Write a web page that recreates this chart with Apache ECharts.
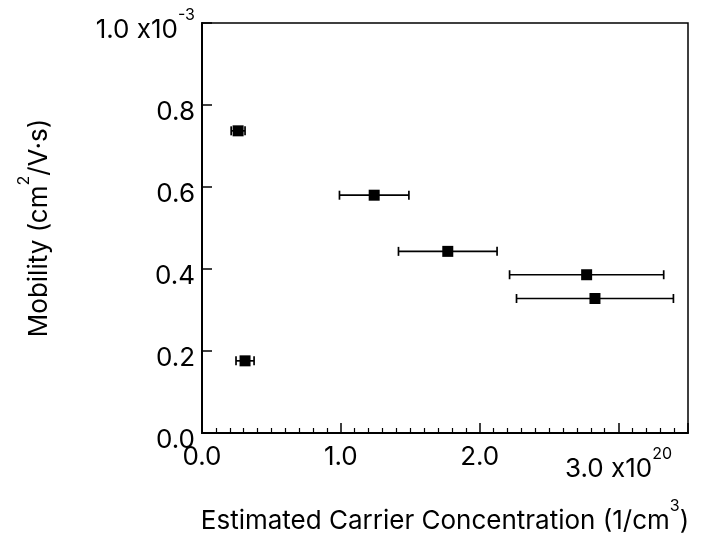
<!DOCTYPE html>
<html><head><meta charset="utf-8">
<script src="https://cdn.jsdelivr.net/npm/echarts@6/dist/echarts.min.js"></script>
<style>html,body{margin:0;padding:0;background:#fff}#c{width:707px;height:541px}</style>
</head><body><div id="c"></div>
<script>
// Carrier concentration (x10^20 1/cm^3), mobility (x10^-3 cm^2/V·s)
const concentration = [0.26, 0.31, 1.24, 1.77, 2.77, 2.83];
const mobility = [0.737, 0.176, 0.580, 0.443, 0.386, 0.328];
const concErr = [0.05, 0.065, 0.25, 0.355, 0.555, 0.565];
const xTickLabels = {0: '0.0', 1: '1.0', 2: '2.0', 3: '3.0 x10'};
const xTickExp = {3: '20'};
const yTickLabels = {0: '0.0', 2: '0.2', 4: '0.4', 6: '0.6', 8: '0.8', 10: '1.0 x10'};
const yTickExp = {10: '-3'};

const pts = concentration.map((x, i) => [x, mobility[i]]);
const errData = concentration.map((x, i) => [x - concErr[i], x + concErr[i], mobility[i]]);
const FONT = 'Inter, Liberation Sans, Arial, sans-serif';
const FS = 26, SFS = 16, LH = 40, SP = 20;
const base = (extra) => Object.assign({fontSize: FS, fontFamily: FONT, color: '#000', lineHeight: LH, verticalAlign: 'bottom'}, extra || {});
const sup = {fontSize: SFS, fontFamily: FONT, color: '#000', lineHeight: SFS, verticalAlign: 'bottom', padding: [0, 0, SP, 0]};
const rich = {b: base(), d: base({lineHeight: LH + 12}), s: sup};

const chart = echarts.init(document.getElementById('c'));
chart.setOption({
  animation: false,
  backgroundColor: '#fff',
  grid: {left: 202, top: 23, right: 19, bottom: 108, show: true, borderColor: '#000', borderWidth: 1.5, backgroundColor: 'transparent'},
  xAxis: {
    type: 'value', min: 0, max: 3.5, interval: 1,
    axisLine: {lineStyle: {color: '#000', width: 2}},
    axisTick: {inside: true, length: 10, lineStyle: {color: '#000', width: 1.5}},
    minorTick: {show: true, splitNumber: 10, length: 5, lineStyle: {color: '#000', width: 1.2}},
    splitLine: {show: false},
    axisLabel: {
      margin: -3,
      formatter: v => {
        const k = Math.round(v);
        const t = xTickLabels[k] || '';
        return xTickExp[k] ? '{d|' + t + '}{s|' + xTickExp[k] + '}' : '{b|' + t + '}';
      },
      rich: rich
    },
    name: '{b|Estimated Carrier Concentration (1/cm}{s|3}{b|)}',
    nameLocation: 'middle', nameGap: 61,
    nameTextStyle: {rich: rich}
  },
  yAxis: {
    type: 'value', min: 0, max: 1, interval: 0.2,
    axisLine: {show: true, lineStyle: {color: '#000', width: 2}},
    axisTick: {show: true, inside: true, length: 10, lineStyle: {color: '#000', width: 1.5}},
    splitLine: {show: false},
    axisLabel: {
      margin: 7,
      formatter: v => {
        const k = Math.round(v * 10);
        const t = yTickLabels[k] || '';
        return yTickExp[k] ? '{b|' + t + '}{s|' + yTickExp[k] + '}' : '{b|' + t + '}';
      },
      rich: rich
    },
    name: '{b|Mobility (cm}{s|2}{b|/V·s)}',
    nameLocation: 'middle', nameGap: 150,
    nameTextStyle: {rich: rich}
  },
  series: [
    {
      type: 'custom',
      data: errData,
      z: 2,
      renderItem: (params, api) => {
        const lo = api.coord([api.value(0), api.value(2)]);
        const hi = api.coord([api.value(1), api.value(2)]);
        const h = 4.5;
        const style = {stroke: '#000', lineWidth: 1.7};
        return {type: 'group', children: [
          {type: 'line', shape: {x1: lo[0], y1: lo[1], x2: hi[0], y2: hi[1]}, style},
          {type: 'line', shape: {x1: lo[0], y1: lo[1] - h, x2: lo[0], y2: lo[1] + h}, style},
          {type: 'line', shape: {x1: hi[0], y1: hi[1] - h, x2: hi[0], y2: hi[1] + h}, style}
        ]};
      }
    },
    {
      type: 'scatter', data: pts, symbol: 'rect', symbolSize: 11, z: 3,
      itemStyle: {color: '#000', opacity: 1}
    }
  ]
});
</script></body></html>
